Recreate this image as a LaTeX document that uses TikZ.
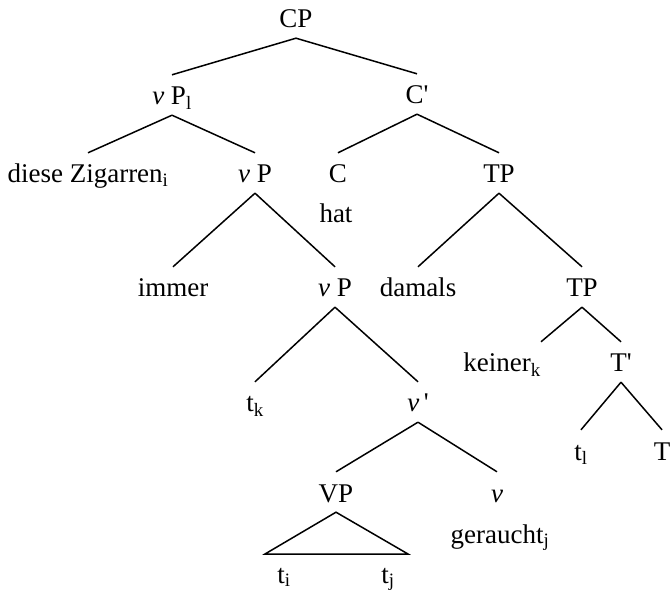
\documentclass[tikz,border=0pt]{standalone}
\usepackage{fontspec}
\setmainfont{Liberation Serif}
\tikzset{
    cat/.style={anchor=base, inner sep=0pt, text height=30pt, text depth=10pt, font=\fontsize{27}{31}\selectfont},
    lex/.style={anchor=base, inner sep=0pt, font=\fontsize{27}{31}\selectfont},
    branch/.style={draw, line width=1.5pt, line join=miter},
}
\newcommand{\lv}{\textit{v}}
\newcommand{\prm}{\textquotesingle}

\begin{document}
\begin{tikzpicture}[x=1pt, y=-1pt]
    \useasboundingbox (0,0) rectangle (672,593);
    % categories and words
    \node[cat] (cp)   at (296,28)  {CP};
    \node[cat] (vpl)  at (172,105) {\lv\ P\textsubscript{l}};
    \node[cat] (cbar) at (417,104) {C\prm};
    \node[cat] (dz)   at (88,183)  {diese Zigarren\textsubscript{i}};
    \node[cat] (vp1)  at (255,183) {\lv\ P};
    \node[cat] (c)    at (338,183) {C};
    \node[lex] (hat)  at (336,223) {hat};
    \node[cat] (tp1)  at (499,183) {TP};
    \node[cat] (imm)  at (173,297) {immer};
    \node[cat] (vp2)  at (335,297) {\lv\ P};
    \node[cat] (dam)  at (418,297) {damals};
    \node[cat] (tp2)  at (582,297) {TP};
    \node[cat, anchor=base east] (kein) at (541,372) {keiner\textsubscript{k}};
    \node[cat] (tbar) at (621,372) {T\prm};
    \node[cat] (tl)   at (581,460) {t\textsubscript{l}};
    \node[cat] (t)    at (662,460) {T};
    \node[cat] (tk)   at (255,412) {t\textsubscript{k}};
    \node[cat] (vbar) at (418,412) {\lv\,\prm};
    \node[cat] (vp)   at (336,502) {VP};
    \node[cat] (v)    at (497,502) {\lv};
    \node[lex] (ger)  at (500,543) {geraucht\textsubscript{j}};
    \node[lex] (ti)   at (284,583) {t\textsubscript{i}};
    \node[lex] (tj)   at (388,583) {t\textsubscript{j}};
    \coordinate (trl) at (265,554);
    \coordinate (trr) at (408,554);
    % branches
    \path[branch] (cp.south) -- (vpl.north) (cp.south) -- (cbar.north);
    \path[branch] (vpl.south) -- (dz.north) (vpl.south) -- (vp1.north);
    \path[branch] (cbar.south) -- (c.north) (cbar.south) -- (tp1.north);
    \path[branch] (vp1.south) -- (imm.north) (vp1.south) -- (vp2.north);
    \path[branch] (tp1.south) -- (dam.north) (tp1.south) -- (tp2.north);
    \path[branch] (vp2.south) -- (tk.north) (vp2.south) -- (vbar.north);
    \path[branch] (tp2.south) -- (kein.north east) (tp2.south) -- (tbar.north);
    \path[branch] (tbar.south) -- (tl.north) (tbar.south) -- (t.north);
    \path[branch] (vbar.south) -- (vp.north) (vbar.south) -- (v.north);
    \path[branch] (vp.south) -- (trl) -- (trr) -- cycle;
\end{tikzpicture}
\end{document}
